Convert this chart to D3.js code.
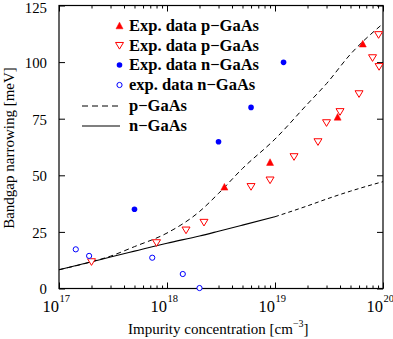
<!DOCTYPE html>
<html>
<head>
<meta charset="utf-8">
<script src="https://cdn.jsdelivr.net/npm/d3@7"></script>
<style>
  html, body { margin: 0; padding: 0; background: #fff; }
  svg { display: block; }
</style>
</head>
<body>
<svg id="chart" width="393" height="339" font-family="'Liberation Serif', 'Times New Roman', Times, serif"></svg>
<script>
// Experimental bandgap narrowing, p-type GaAs (filled triangles)
const pFilledN = [3.4e18, 9.0e18, 3.8e19, 6.5e19];
const pFilledV = [44.7, 55.6, 75.6, 107.9];

// Experimental bandgap narrowing, p-type GaAs (open triangles)
const pOpenN = [2.0e17, 8.0e17, 1.5e18, 2.2e18, 6.0e18, 9.0e18, 1.5e19, 2.5e19, 3.0e19, 4.0e19, 6.0e19, 8.0e19, 9.1e19, 9.2e19];
const pOpenV = [11.8, 20.2, 25.8, 29.2, 45.0, 47.9, 58.2, 64.8, 73.2, 78.1, 86.0, 101.9, 112.1, 98.0];

// Experimental bandgap narrowing, n-type GaAs (filled circles)
const nFilledN = [5.0e17, 3.0e18, 6.0e18, 1.2e19];
const nFilledV = [35.0, 64.8, 80.0, 99.9];

// Experimental bandgap narrowing, n-type GaAs (open circles)
const nOpenN = [1.43e17, 1.9e17, 7.3e17, 1.4e18, 2.0e18];
const nOpenV = [17.3, 14.4, 13.6, 6.4, 0.2];

// Calculated curves
const curveN = [1e17, 2e17, 3e17, 5e17, 1e18, 2e18, 3e18, 5e18, 1e19, 2e19, 3e19, 5e19, 1e20];
const pCalcV = [8.3, 11.8, 14.3, 18.5, 24.5, 34.0, 42.0, 53.0, 66.0, 81.5, 90.5, 103.5, 117.0];
const nCalcV = [8.3, 11.8, 13.9, 16.5, 20.0, 23.2, 25.3, 28.0, 31.7, 36.5, 39.5, 43.0, 47.2];

// Axis ticks
const yTicks = [0, 25, 50, 75, 100, 125];
const xMajorExp = [17, 18, 19, 20];
const xMinorMult = [2, 3, 4, 5, 6, 7, 8, 9];

const legendLabels = ["Exp. data p\u2212GaAs", "Exp. data p\u2212GaAs", "Exp. data n\u2212GaAs",
                      "exp. data n\u2212GaAs", "p\u2212GaAs", "n\u2212GaAs"];

const RED = "#ff0000", BLUE = "#0000ff";

const svg = d3.select("#chart");
const L = 59, R = 383, T = 5.5, B = 288.5;

const x = d3.scaleLog().domain([1e17, 1e20]).range([L, R]);
const y = d3.scaleLinear().domain([0, 125]).range([B, T]);

// Frame
svg.append("rect").attr("x", L).attr("y", T).attr("width", R - L).attr("height", B - T)
  .attr("fill", "none").attr("stroke", "#000").attr("stroke-width", 1.2);

const majorX = xMajorExp.map(e => Math.pow(10, e));
const minorX = [];
for (let e = 17; e < 20; e++) xMinorMult.forEach(m => minorX.push(m * Math.pow(10, e)));

function tickGroup(axis, tf) {
  const g = svg.append("g").attr("transform", tf).call(axis);
  g.select(".domain").remove();
  g.selectAll("line").attr("stroke", "#000").attr("stroke-width", 1);
  g.selectAll("text").remove();
  return g;
}
// Inward ticks on all four sides
tickGroup(d3.axisBottom(x).tickValues(majorX).tickSize(-6), `translate(0,${B})`);
tickGroup(d3.axisBottom(x).tickValues(minorX).tickSize(-3), `translate(0,${B})`);
tickGroup(d3.axisTop(x).tickValues(majorX).tickSize(-6), `translate(0,${T})`);
tickGroup(d3.axisTop(x).tickValues(minorX).tickSize(-3), `translate(0,${T})`);
tickGroup(d3.axisLeft(y).tickValues(yTicks).tickSize(-6), `translate(${L},0)`);
tickGroup(d3.axisRight(y).tickValues(yTicks).tickSize(-6), `translate(${R},0)`);

// Y tick labels (top one kept inside the canvas, bottom one clear of the x labels)
svg.append("g").selectAll("text").data(yTicks).join("text")
  .attr("x", L - 12).attr("y", d => Math.min(Math.max(y(d) + 6, 13.2), 293.5))
  .attr("text-anchor", "end").attr("font-size", 14.8)
  .text(d => d);

// X tick labels: 10 with superscript exponent
svg.append("g").selectAll("text").data(xMajorExp).join("text")
  .attr("x", d => x(Math.pow(10, d))).attr("y", 311.5)
  .attr("text-anchor", "end").attr("font-size", 16.5)
  .text("10");
svg.append("g").selectAll("text").data(xMajorExp).join("text")
  .attr("x", d => x(Math.pow(10, d)) + 0.5).attr("y", 302)
  .attr("font-size", 10.5)
  .text(d => d);

// Axis titles
const xt = svg.append("text").attr("x", 128).attr("y", 334).attr("font-size", 15);
xt.append("tspan").text("Impurity concentration [cm");
xt.append("tspan").attr("font-size", 10).attr("dy", -7).text("\u22123");
xt.append("tspan").attr("dy", 7).text("]");

svg.append("text")
  .attr("transform", "translate(14,148) rotate(-90)")
  .attr("text-anchor", "middle").attr("font-size", 15)
  .text("Bandgap narrowing [meV]");

// Calculated curves
const line = d3.line().x(d => x(d[0])).y(d => y(d[1])).curve(d3.curveMonotoneX);
const pCurve = curveN.map((n, i) => [n, pCalcV[i]]);
const nCurve = curveN.map((n, i) => [n, nCalcV[i]]);
const iSplit = curveN.indexOf(1e19);

svg.append("path").datum(pCurve).attr("d", line)
  .attr("fill", "none").attr("stroke", "#000").attr("stroke-width", 1)
  .attr("stroke-dasharray", "5,3.5");
svg.append("path").datum(nCurve.slice(0, iSplit + 1)).attr("d", line)
  .attr("fill", "none").attr("stroke", "#000").attr("stroke-width", 1.1);
svg.append("path").datum(nCurve.slice(iSplit)).attr("d", line)
  .attr("fill", "none").attr("stroke", "#000").attr("stroke-width", 1)
  .attr("stroke-dasharray", "4,3");

// Marker shapes
const triUp = (cx, cy, s) => `M${cx},${cy - s * 0.55}L${cx + s * 0.5},${cy + s * 0.4}L${cx - s * 0.5},${cy + s * 0.4}Z`;
const triDown = (cx, cy, s) => `M${cx - s * 0.5},${cy - s * 0.38}L${cx + s * 0.5},${cy - s * 0.38}L${cx},${cy + s * 0.45}Z`;

function drawTriUp(g, cx, cy) {
  g.append("path").attr("d", triUp(cx, cy, 7)).attr("fill", RED).attr("stroke", RED).attr("stroke-width", 0.5);
}
function drawTriDown(g, cx, cy) {
  g.append("path").attr("d", triDown(cx, cy, 8)).attr("fill", "#fff").attr("stroke", RED).attr("stroke-width", 1);
}
function drawDot(g, cx, cy) {
  g.append("circle").attr("cx", cx).attr("cy", cy).attr("r", 2.8).attr("fill", BLUE);
}
function drawRing(g, cx, cy) {
  g.append("circle").attr("cx", cx).attr("cy", cy).attr("r", 2.6).attr("fill", "#fff")
    .attr("stroke", BLUE).attr("stroke-width", 1);
}

const marks = svg.append("g");
pOpenN.forEach((n, i) => drawTriDown(marks, x(n), y(pOpenV[i])));
pFilledN.forEach((n, i) => drawTriUp(marks, x(n), y(pFilledV[i])));
nFilledN.forEach((n, i) => drawDot(marks, x(n), y(nFilledV[i])));
nOpenN.forEach((n, i) => drawRing(marks, x(n), y(nOpenV[i])));

// Legend
const lg = svg.append("g");
const rowY = [26, 45.5, 65, 85, 106, 126];
const symX = 119.5, txtX = 129;
drawTriUp(lg, symX, rowY[0]);
drawTriDown(lg, symX, rowY[1]);
drawDot(lg, symX, rowY[2]);
drawRing(lg, symX, rowY[3]);
lg.append("line").attr("x1", 82).attr("x2", 120).attr("y1", rowY[4]).attr("y2", rowY[4])
  .attr("stroke", "#000").attr("stroke-width", 1).attr("stroke-dasharray", "6,4");
lg.append("line").attr("x1", 82).attr("x2", 120).attr("y1", rowY[5]).attr("y2", rowY[5])
  .attr("stroke", "#000").attr("stroke-width", 1.1);
lg.selectAll("text.lab").data(legendLabels).join("text").attr("class", "lab")
  .attr("x", txtX).attr("y", (d, i) => rowY[i] + 5)
  .attr("font-size", 16.5).attr("font-weight", "bold")
  .text(d => d);
</script>
</body>
</html>
